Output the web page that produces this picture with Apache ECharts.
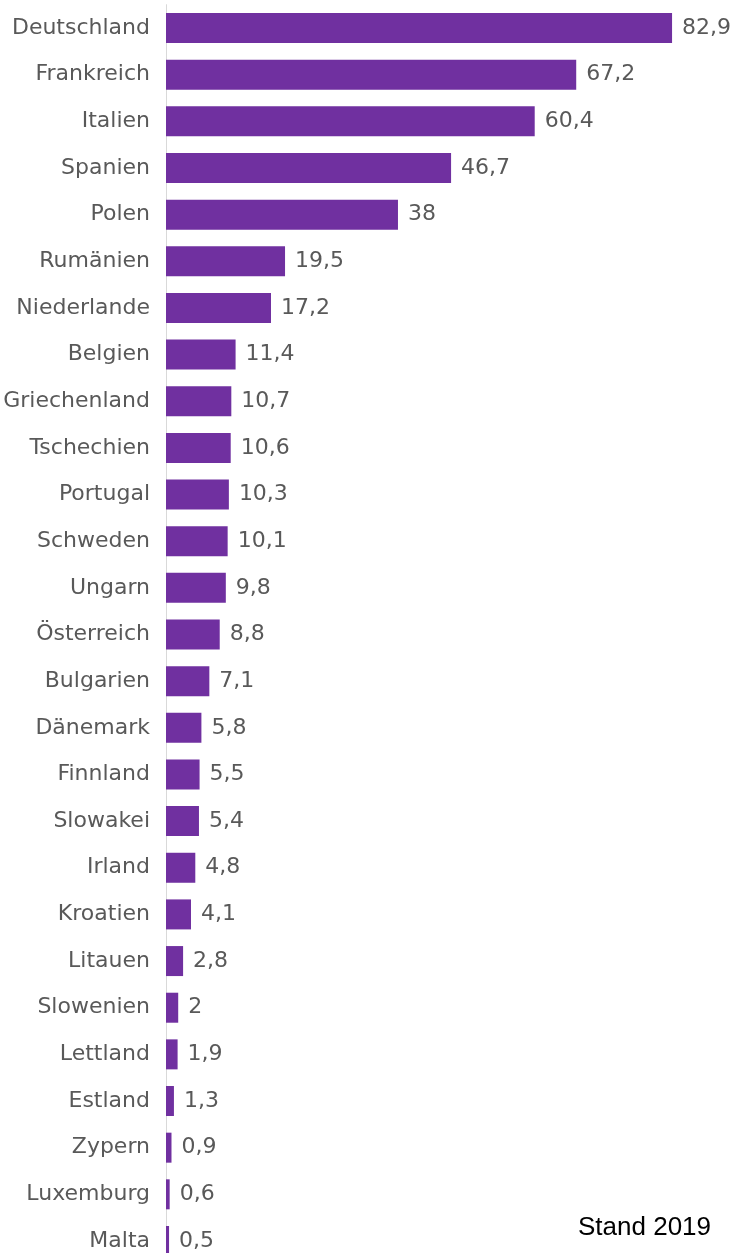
<!DOCTYPE html>
<html><head><meta charset="utf-8">
<script src="https://cdn.jsdelivr.net/npm/echarts@6/dist/echarts.min.js"></script>
<style>html,body{margin:0;padding:0;background:#fff;overflow:hidden}#c{width:739px;height:1266px}</style>
</head><body><div id="c"></div>
<script>
const countries = ["Deutschland","Frankreich","Italien","Spanien","Polen","Rumänien","Niederlande","Belgien","Griechenland","Tschechien","Portugal","Schweden","Ungarn","Österreich","Bulgarien","Dänemark","Finnland","Slowakei","Irland","Kroatien","Litauen","Slowenien","Lettland","Estland","Zypern","Luxemburg","Malta"];
const values = [82.9,67.2,60.4,46.7,38,19.5,17.2,11.4,10.7,10.6,10.3,10.1,9.8,8.8,7.1,5.8,5.5,5.4,4.8,4.1,2.8,2,1.9,1.3,0.9,0.6,0.5];
const note = "Stand 2019";

const chart = echarts.init(document.getElementById('c'), null, {renderer:'canvas'});
chart.setOption({
  animation:false,
  grid:{left:166, top:4.7, width:549.4, height:1259.6, containLabel:false},
  xAxis:{type:'value', min:0, max:90, show:false},
  yAxis:{type:'category', data:countries, inverse:true,
    axisLine:{show:true, lineStyle:{color:'#d9d9d9', width:1}},
    axisTick:{show:false},
    axisLabel:{color:'#595959', fontFamily:'DejaVu Sans', fontSize:22, margin:16}},
  series:[{type:'bar', data:values, barWidth:30,
    itemStyle:{color:'#7030A0'},
    label:{show:true, position:'right', distance:10, color:'#595959', fontFamily:'DejaVu Sans', fontSize:22,
      formatter:p=>String(p.value).replace('.',',')}}],
  graphic:[{type:'text', left:578, top:1215, style:{text:note, font:'26px "Liberation Sans"', fill:'#000'}}]
});
</script></body></html>
